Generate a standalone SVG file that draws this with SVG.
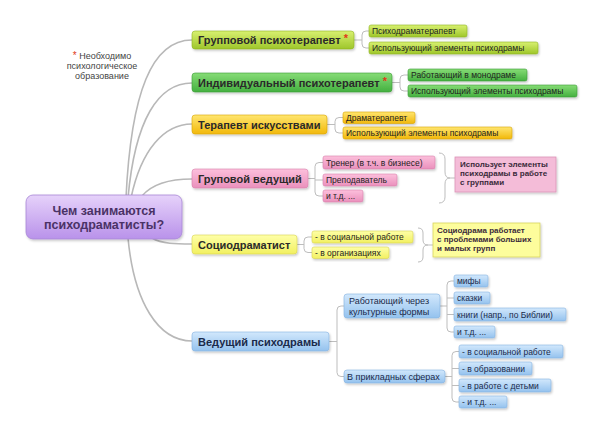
<svg xmlns="http://www.w3.org/2000/svg" width="604" height="433" viewBox="0 0 604 433">
<defs>
<linearGradient id="gCenter" x1="0" y1="0" x2="0" y2="1"><stop offset="0" stop-color="#e6d2fa"/><stop offset="1" stop-color="#b992ea"/></linearGradient>
<linearGradient id="gLime" x1="0" y1="0" x2="0" y2="1"><stop offset="0" stop-color="#d8f070"/><stop offset="1" stop-color="#9ec62a"/></linearGradient>
<linearGradient id="gGreen" x1="0" y1="0" x2="0" y2="1"><stop offset="0" stop-color="#86dc76"/><stop offset="1" stop-color="#44b040"/></linearGradient>
<linearGradient id="gOrange" x1="0" y1="0" x2="0" y2="1"><stop offset="0" stop-color="#ffe670"/><stop offset="1" stop-color="#f2b80a"/></linearGradient>
<linearGradient id="gPink" x1="0" y1="0" x2="0" y2="1"><stop offset="0" stop-color="#fcc0dc"/><stop offset="1" stop-color="#ea90bc"/></linearGradient>
<linearGradient id="gYellow" x1="0" y1="0" x2="0" y2="1"><stop offset="0" stop-color="#feffa8"/><stop offset="1" stop-color="#f2f060"/></linearGradient>
<linearGradient id="gBlue" x1="0" y1="0" x2="0" y2="1"><stop offset="0" stop-color="#d2e8fc"/><stop offset="1" stop-color="#94c2ee"/></linearGradient>
<filter id="sh" x="-10%" y="-20%" width="120%" height="150%"><feDropShadow dx="1" dy="1.5" stdDeviation="1" flood-color="#000" flood-opacity="0.22"/></filter>
</defs>
<style>
text{font-family:"Liberation Sans",Arial,sans-serif;fill:#222}
.main{font-size:11px;font-weight:bold;fill:#2a2a2a}
.sub{font-size:8.5px;fill:#1e1e1e}
.note{font-size:8px;font-weight:bold;fill:#3a2a3a}
.star{fill:#e03a1a}
.box{filter:url(#sh)}
.lime{fill:url(#gLime);stroke:#8fb424;stroke-width:0.6}
.green{fill:url(#gGreen);stroke:#3c9c36;stroke-width:0.6}
.orange{fill:url(#gOrange);stroke:#d8a400;stroke-width:0.6}
.pink{fill:url(#gPink);stroke:#d880ac;stroke-width:0.6}
.yellow{fill:url(#gYellow);stroke:#d8d450;stroke-width:0.6}
.blue{fill:url(#gBlue);stroke:#84b2e0;stroke-width:0.6}
.pinknote{fill:#f4bcd8;stroke:#dc94b8;stroke-width:0.8}
.yellownote{fill:#fdfd9c;stroke:#d8d460;stroke-width:0.8}
.blt{fill:#1a2a4a}
.conn path{fill:none;stroke:#bdbdbd;stroke-width:1}
.conn path.root{stroke:#b8b8b8;stroke-width:1.6}
</style>
<rect width="604" height="433" fill="#ffffff"/>

<g id="connectors" class="conn">
<path class="root" d="M126,198 C131,92 152,40 192,40"/>
<path class="root" d="M128,198 C135,120 158,83 192,83"/>
<path class="root" d="M131,198 C141,150 164,124 192,124"/>
<path class="root" d="M142,196 C152,184 170,179 192,179"/>
<path class="root" d="M152,238 C162,244 176,244 192,244"/>
<path class="root" d="M128,238 C134,302 158,341 192,341"/>
<path d="M354,40 H362 M369,31 H366 Q362,31 362,35 V44 Q362,48 366,48 H369"/>
<path d="M392,82.5 H400 M408,75 H404 Q400,75 400,79 V87 Q400,91 404,91 H408"/>
<path d="M327,124.5 H335 M343,117.5 H339 Q335,117.5 335,121.5 V129 Q335,133 339,133 H343"/>
<path d="M308,178.5 H315 M323,162.5 H319 Q315,162.5 315,166.5 V192 Q315,196 319,196 H323 M315,180 H323"/>
<path d="M297,244.5 H304 M312,237 H308 Q304,237 304,241 V248.5 Q304,252.5 308,252.5 H312"/>
<path d="M329,341.5 H337 M344,306 H341 Q337,306 337,310 V372.5 Q337,376.5 341,376.5 H344"/>
<path d="M440,306 H447 M454,281 H451 Q447,281 447,285 V328 Q447,332 451,332 H454 M447,298 H454 M447,314.5 H454"/>
<path d="M445,376.5 H452 M459,351.5 H456 Q452,351.5 452,355.5 V398 Q452,402 456,402 H459 M452,368.5 H459 M452,385.5 H459"/>
<path d="M439,153 Q445,153 445,159 V172 Q445,178 450,178 Q445,178 445,184 V197 Q445,203 439,203 M450,178 H455"/>
<path d="M418,228 Q423,228 423,233 V240 Q423,245 428,245 Q423,245 423,250 V257 Q423,262 418,262 M428,245 H433"/>
</g>

<g id="note-star">
<text x="102" y="58.5" text-anchor="middle" style="font-size:9px;fill:#444"><tspan class="star" style="font-size:10px">*</tspan> Необходимо</text>
<text x="102" y="68.5" text-anchor="middle" style="font-size:9px;fill:#444">психологическое</text>
<text x="102" y="78.5" text-anchor="middle" style="font-size:9px;fill:#444">образование</text>
</g>

<g id="center">
<rect class="box" x="26" y="195" width="156" height="44" rx="7" fill="url(#gCenter)" stroke="#a786d6" stroke-width="0.8"/>
<text x="104" y="214.5" text-anchor="middle" style="font-size:12.5px;font-weight:bold;fill:#4a3266">Чем занимаются</text>
<text x="104" y="228.5" text-anchor="middle" style="font-size:12.5px;font-weight:bold;fill:#4a3266">психодраматисты?</text>
</g>

<g id="n1">
<rect class="box lime" x="192" y="31" width="162" height="18" rx="3"/>
<text class="main" x="198" y="44">Групповой психотерапевт <tspan class="star" dy="-2">*</tspan></text>
</g>
<g id="n1a"><rect class="box lime" x="369" y="25" width="98" height="12" rx="2"/><text class="sub" x="372" y="34">Психодраматерапевт</text></g>
<g id="n1b"><rect class="box lime" x="369" y="42" width="169" height="12" rx="2"/><text class="sub" x="372" y="51">Использующий элементы психодрамы</text></g>

<g id="n2">
<rect class="box green" x="192" y="73" width="200" height="19" rx="3"/>
<text class="main" x="198" y="86.5">Индивидуальный психотерапевт <tspan class="star" dy="-2">*</tspan></text>
</g>
<g id="n2a"><rect class="box green" x="408" y="69" width="119" height="12" rx="2"/><text class="sub" x="411" y="78">Работающий в монодраме</text></g>
<g id="n2b"><rect class="box green" x="408" y="85" width="169" height="12" rx="2"/><text class="sub" x="411" y="94">Использующий элементы психодрамы</text></g>

<g id="n3">
<rect class="box orange" x="192" y="115" width="135" height="19" rx="3"/>
<text class="main" x="198" y="128.5">Терапевт искусствами</text>
</g>
<g id="n3a"><rect class="box orange" x="343" y="112" width="72" height="11.5" rx="2"/><text class="sub" x="346" y="120.8">Драматерапевт</text></g>
<g id="n3b"><rect class="box orange" x="343" y="127" width="169" height="12" rx="2"/><text class="sub" x="346" y="136">Использующий элементы психодрамы</text></g>

<g id="n4">
<rect class="box pink" x="192" y="169" width="116" height="19" rx="3"/>
<text class="main" x="198" y="182.5">Груповой ведущий</text>
</g>
<g id="n4a"><rect class="box pink" x="323" y="156" width="112" height="13" rx="2"/><text class="sub" x="326" y="165.5">Тренер (в т.ч. в бизнесе)</text></g>
<g id="n4b"><rect class="box pink" x="323" y="174" width="74" height="12" rx="2"/><text class="sub" x="326" y="183">Преподаватель</text></g>
<g id="n4c"><rect class="box pink" x="323" y="190" width="40" height="12" rx="2"/><text class="sub" x="326" y="199">и т.д. ...</text></g>
<g id="n4note">
<rect class="box pinknote" x="455" y="157" width="101" height="35"/>
<text class="note" x="460" y="167">Использует элементы</text>
<text class="note" x="460" y="176">психодрамы в работе</text>
<text class="note" x="460" y="185">с группами</text>
</g>

<g id="n5">
<rect class="box yellow" x="192" y="235" width="105" height="19" rx="3"/>
<text class="main" x="198" y="248.5">Социодраматист</text>
</g>
<g id="n5a"><rect class="box yellow" x="312" y="231" width="101" height="12" rx="2"/><text class="sub" x="315" y="240">- в социальной работе</text></g>
<g id="n5b"><rect class="box yellow" x="312" y="247" width="77" height="11.5" rx="2"/><text class="sub" x="315" y="255.8">- в организациях</text></g>
<g id="n5note">
<rect class="box yellownote" x="433" y="223" width="107" height="34"/>
<text class="note" x="437" y="232.5">Социодрама работает</text>
<text class="note" x="437" y="241.5">с проблемами больших</text>
<text class="note" x="437" y="250.5">и малых групп</text>
</g>

<g id="n6">
<rect class="box blue" x="192" y="332" width="137" height="19" rx="3"/>
<text class="main blt" x="198" y="345.5">Ведущий психодрамы</text>
</g>
<g id="n6a">
<rect class="box blue" x="344" y="294" width="96" height="24" rx="3"/>
<text class="sub blt" x="349" y="304" style="font-size:9px">Работающий через</text>
<text class="sub blt" x="349" y="314.5" style="font-size:9px">культурные формы</text>
</g>
<g id="n6b"><rect class="box blue" x="344" y="370" width="101" height="13" rx="3"/><text class="sub blt" x="347" y="380" style="font-size:9px">В прикладных сферах</text></g>

<g id="c1"><rect class="box blue" x="454" y="275" width="34" height="12" rx="2"/><text class="sub blt" x="457" y="284">мифы</text></g>
<g id="c2"><rect class="box blue" x="454" y="292" width="36" height="12" rx="2"/><text class="sub blt" x="457" y="301">сказки</text></g>
<g id="c3"><rect class="box blue" x="454" y="308" width="112" height="13" rx="2"/><text class="sub blt" x="457" y="317.5">книги (напр., по Библии)</text></g>
<g id="c4"><rect class="box blue" x="454" y="326" width="41" height="12" rx="2"/><text class="sub blt" x="457" y="335">и т.д. ...</text></g>

<g id="a1"><rect class="box blue" x="459" y="345" width="104" height="13" rx="2"/><text class="sub blt" x="462" y="354.5">- в социальной работе</text></g>
<g id="a2"><rect class="box blue" x="459" y="362" width="73" height="13" rx="2"/><text class="sub blt" x="462" y="371.5">- в образовании</text></g>
<g id="a3"><rect class="box blue" x="459" y="379" width="92" height="13" rx="2"/><text class="sub blt" x="462" y="388.5">- в работе с детьми</text></g>
<g id="a4"><rect class="box blue" x="459" y="396" width="48" height="12" rx="2"/><text class="sub blt" x="462" y="405">- и т.д. ...</text></g>
</svg>
